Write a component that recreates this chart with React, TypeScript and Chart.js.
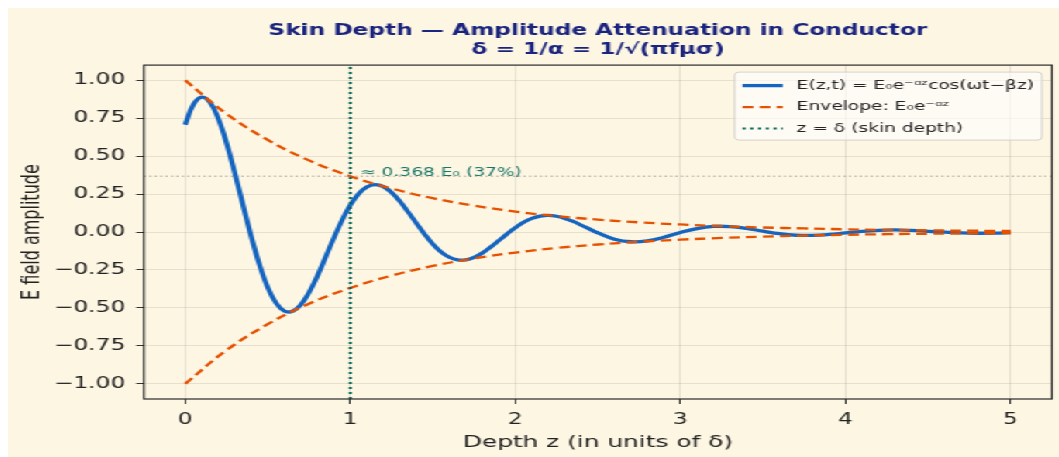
import React, { useEffect, useRef } from 'react';
import { Chart, registerables } from 'chart.js';

Chart.register(...registerables);

// ---------- data ----------
const titleLines = ['Skin Depth — Amplitude Attenuation in Conductor', 'δ = 1/α = 1/√(πfμσ)'];
const xAxisLabel = 'Depth z (in units of δ)';
const yAxisLabel = 'E field amplitude';

const xLimits = [-0.25, 5.25];
const yLimits = [-1.1, 1.1];
const xTickValues = [0, 1, 2, 3, 4, 5];
const xTickLabels = ['0', '1', '2', '3', '4', '5'];
const yTickValues = [-1, -0.75, -0.5, -0.25, 0, 0.25, 0.5, 0.75, 1];
const yTickLabels = ['−1.00', '−0.75', '−0.50', '−0.25', '0.00', '0.25', '0.50', '0.75', '1.00'];

const waveDepth = [
  0, 0.05, 0.1, 0.15, 0.2, 0.25, 0.3, 0.35, 0.4, 0.45, 0.5, 0.55, 0.6, 0.65, 0.7, 0.75, 0.8, 0.85, 0.9, 0.95,
  1.0, 1.05, 1.1, 1.15, 1.2, 1.25, 1.3, 1.35, 1.4, 1.45, 1.5, 1.55, 1.6, 1.65, 1.7, 1.75, 1.8, 1.85, 1.9, 1.95,
  2.0, 2.05, 2.1, 2.15, 2.2, 2.25, 2.3, 2.35, 2.4, 2.45, 2.5,
  2.6, 2.7, 2.8, 2.9, 3.0, 3.1, 3.2, 3.3, 3.4, 3.5, 3.6, 3.7, 3.8, 3.9, 4.0, 4.1, 4.2, 4.3, 4.4, 4.5, 4.6, 4.7, 4.8, 4.9, 5.0,
];
const waveValues = [
  0.707, 0.841, 0.889, 0.855, 0.749, 0.588, 0.391, 0.179, -0.029, -0.215, -0.365, -0.467, -0.52, -0.522, -0.479, -0.398, -0.291, -0.166, -0.04, 0.078,
  0.177, 0.252, 0.297, 0.312, 0.299, 0.26, 0.203, 0.133, 0.059, -0.014, -0.079, -0.131, -0.166, -0.183, -0.183, -0.167, -0.138, -0.099, -0.056, -0.012,
  0.029, 0.064, 0.09, 0.105, 0.11, 0.104, 0.09, 0.07, 0.045, 0.019, -0.006,
  -0.047, -0.064, -0.058, -0.034, -0.003, 0.023, 0.037, 0.036, 0.024, 0.006, -0.011, -0.021, -0.022, -0.016, -0.006, 0.004, 0.011, 0.014, 0.011, 0.005, -0.001, -0.006, -0.008, -0.007, -0.004,
];

const envDepth = [0, 0.25, 0.5, 0.75, 1, 1.25, 1.5, 1.75, 2, 2.25, 2.5, 2.75, 3, 3.25, 3.5, 3.75, 4, 4.25, 4.5, 4.75, 5];
const envUpper = [1, 0.779, 0.607, 0.472, 0.368, 0.287, 0.223, 0.174, 0.135, 0.105, 0.082, 0.064, 0.05, 0.039, 0.03, 0.024, 0.018, 0.014, 0.011, 0.009, 0.007];
const envLower = [-1, -0.779, -0.607, -0.472, -0.368, -0.287, -0.223, -0.174, -0.135, -0.105, -0.082, -0.064, -0.05, -0.039, -0.03, -0.024, -0.018, -0.014, -0.011, -0.009, -0.007];

const skinDepth = 1;
const skinLevel = 0.368;
const annotationText = '≈ 0.368 E₀ (37%)';
const annotationAt = [1.06, 0.37];

const waveLabel = 'E(z,t) = E₀e⁻ᵅᶻcos(ωt−βz)';
const envLabel = 'Envelope: E₀e⁻ᵅᶻ';
const skinLabel = 'z = δ (skin depth)';

// ---------- styles ----------
const STRETCH = 1.55;
const BASE_W = 678;
const BASE_H = 449;
const BG = '#fdf6e3';
const FONT = '"DejaVu Sans", sans-serif';
const BLUE = '#1565c0';
const ORANGE = '#e65100';
const TEAL = '#00695c';
const NAVY = '#1a237e';
const GRID = 'rgba(0,0,0,0.085)';
const INK = '#222222';

const decorPlugin = {
  id: 'skinDecor',
  beforeDraw(chart: any) {
    const { ctx, width, height } = chart;
    ctx.save();
    ctx.fillStyle = BG;
    ctx.fillRect(0, 0, width, height);
    ctx.restore();
  },
  afterDatasetsDraw(chart: any) {
    const { ctx, chartArea: a, scales } = chart;
    const xs = scales.x;
    const ys = scales.y;

    // annotation
    ctx.save();
    ctx.font = `12px ${FONT}`;
    ctx.fillStyle = TEAL;
    ctx.globalAlpha = 0.9;
    ctx.textAlign = 'left';
    ctx.textBaseline = 'alphabetic';
    ctx.fillText(annotationText, xs.getPixelForValue(annotationAt[0]), ys.getPixelForValue(annotationAt[1]));
    ctx.restore();

    // frame (all four spines)
    ctx.save();
    ctx.strokeStyle = '#2b2b2b';
    ctx.lineWidth = 1.2;
    ctx.strokeRect(a.left, a.top, a.right - a.left, a.bottom - a.top);
    ctx.restore();

    // legend
    const items = chart.data.datasets.filter((d: any) => d.inLegend);
    ctx.save();
    ctx.font = `12px ${FONT}`;
    let maxW = 0;
    items.forEach((d: any) => {
      maxW = Math.max(maxW, ctx.measureText(d.label).width);
    });
    const w = 40 + maxW + 5;
    const h = 68;
    const bx = a.right - 6.5 - w;
    const by = a.top + 7;
    ctx.beginPath();
    ctx.roundRect(bx, by, w, h, 3);
    ctx.fillStyle = 'rgba(255,255,255,0.6)';
    ctx.fill();
    ctx.strokeStyle = 'rgba(200,200,200,0.8)';
    ctx.lineWidth = 1;
    ctx.stroke();
    items.forEach((d: any, i: number) => {
      const cy = by + 13.5 + i * 21.5;
      ctx.save();
      ctx.beginPath();
      ctx.setLineDash(d.borderDash || []);
      ctx.strokeStyle = d.borderColor;
      ctx.lineWidth = d.borderWidth;
      ctx.moveTo(bx + 5, cy);
      ctx.lineTo(bx + 31, cy);
      ctx.stroke();
      ctx.restore();
      ctx.fillStyle = INK;
      ctx.textAlign = 'left';
      ctx.textBaseline = 'middle';
      ctx.fillText(d.label, bx + 40, cy);
    });
    ctx.restore();
  },
};

export default function App() {
  const canvasRef = useRef<HTMLCanvasElement | null>(null);

  useEffect(() => {
    const canvas = canvasRef.current;
    if (!canvas) return;
    Chart.defaults.font.family = FONT;

    const wavePts = waveDepth.map((x, i) => ({ x, y: waveValues[i] }));
    const upperPts = envDepth.map((x, i) => ({ x, y: envUpper[i] }));
    const lowerPts = envDepth.map((x, i) => ({ x, y: envLower[i] }));

    const chart = new Chart(canvas, {
      type: 'line',
      data: {
        datasets: [
          {
            label: waveLabel,
            data: wavePts,
            borderColor: BLUE,
            borderWidth: 3.3,
            pointRadius: 0,
            tension: 0.4,
            order: 3,
            inLegend: true,
          } as any,
          {
            label: envLabel,
            data: upperPts,
            borderColor: ORANGE,
            borderWidth: 2.3,
            borderDash: [7, 4],
            pointRadius: 0,
            tension: 0.4,
            order: 2,
            inLegend: true,
          } as any,
          {
            label: 'envelope-lower',
            data: lowerPts,
            borderColor: ORANGE,
            borderWidth: 2.3,
            borderDash: [7, 4],
            pointRadius: 0,
            tension: 0.4,
            order: 2,
          } as any,
          {
            label: skinLabel,
            data: [
              { x: skinDepth, y: yLimits[0] },
              { x: skinDepth, y: yLimits[1] },
            ],
            borderColor: TEAL,
            borderWidth: 2,
            borderDash: [2, 3],
            pointRadius: 0,
            order: 1,
            inLegend: true,
          } as any,
          {
            label: 'level',
            data: [
              { x: xLimits[0], y: skinLevel },
              { x: xLimits[1], y: skinLevel },
            ],
            borderColor: 'rgba(120,120,120,0.75)',
            borderWidth: 1,
            borderDash: [1.3, 2.2],
            pointRadius: 0,
            order: 4,
          } as any,
        ],
      },
      options: {
        animation: false,
        responsive: true,
        maintainAspectRatio: false,
        devicePixelRatio: 1,
        events: [],
        layout: { padding: { left: 0, right: 4.5, top: 0, bottom: 0 } },
        plugins: {
          legend: { display: false },
          tooltip: { enabled: false },
          title: {
            display: true,
            text: titleLines,
            fullSize: false,
            color: NAVY,
            font: { size: 15, weight: 'bold', family: FONT, lineHeight: 1.27 },
            padding: { top: 13.5, bottom: 5.5 },
          },
        },
        scales: {
          x: {
            type: 'linear',
            position: 'bottom',
            min: xLimits[0],
            max: xLimits[1],
            afterBuildTicks: (s: any) => {
              s.ticks = xTickValues.map((value) => ({ value }));
            },
            afterFit: (s: any) => {
              s.height = 58;
            },
            ticks: {
              callback: (_v: any, i: number) => xTickLabels[i],
              font: { size: 15, family: FONT },
              color: INK,
              padding: 7,
              maxRotation: 0,
              autoSkip: false,
            },
            grid: { color: GRID, lineWidth: 1, drawTicks: true, tickLength: 5, tickColor: '#333', tickWidth: 1 },
            border: { display: false },
            title: {
              display: true,
              text: xAxisLabel,
              color: INK,
              font: { size: 16, family: FONT },
              padding: { top: 0, bottom: 4.4 },
            },
          },
          y: {
            type: 'linear',
            position: 'left',
            min: yLimits[0],
            max: yLimits[1],
            afterBuildTicks: (s: any) => {
              s.ticks = yTickValues.map((value) => ({ value }));
            },
            afterFit: (s: any) => {
              s.width = 87.7;
            },
            ticks: {
              callback: (_v: any, i: number) => yTickLabels[i],
              font: { size: 15, family: FONT },
              color: INK,
              padding: 7,
              autoSkip: false,
            },
            grid: { color: GRID, lineWidth: 1, drawTicks: true, tickLength: 5, tickColor: '#333', tickWidth: 1 },
            border: { display: false },
            title: {
              display: true,
              text: yAxisLabel,
              color: INK,
              font: { size: 16, family: FONT, lineHeight: 1.2 },
              padding: { top: 6.5, bottom: 0 },
            },
          },
        },
      } as any,
      plugins: [decorPlugin],
    });

    return () => {
      chart.destroy();
    };
  }, []);

  return (
    <div
      style={{
        position: 'fixed',
        left: 8,
        top: 8,
        width: BASE_W,
        height: BASE_H,
        background: BG,
        transform: `scaleX(${STRETCH})`,
        transformOrigin: 'left top',
      }}
    >
      <canvas ref={canvasRef} />
    </div>
  );
}
